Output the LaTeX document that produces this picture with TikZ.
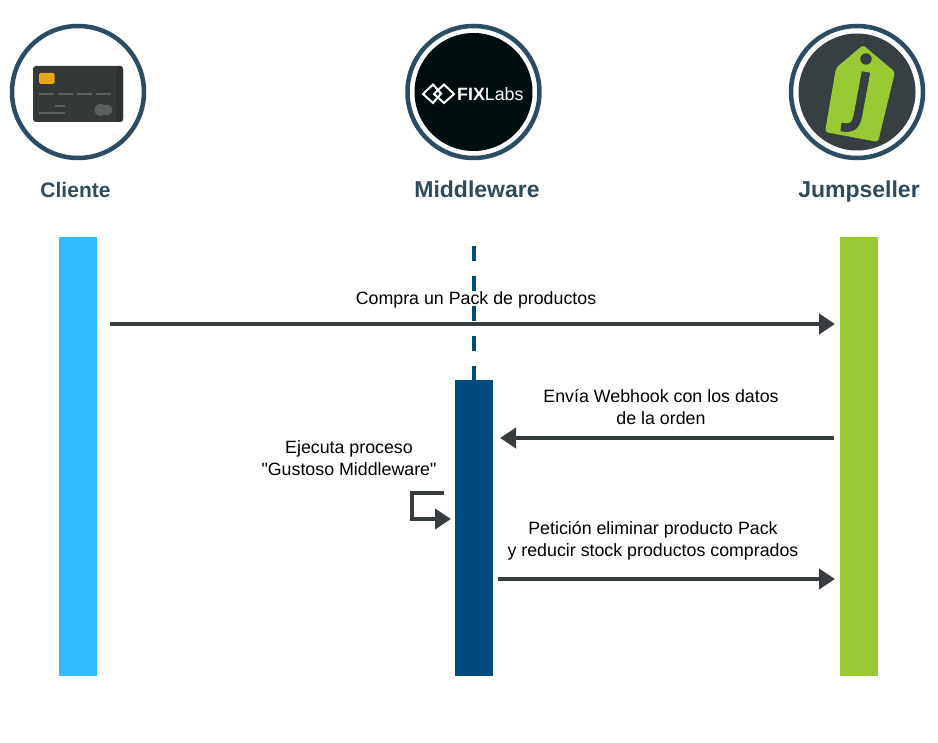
\documentclass[tikz,border=0pt]{standalone}
\usepackage{fontspec}
\setmainfont{Liberation Sans}
\newfontfamily\plainf{Liberation Sans}
\usetikzlibrary{arrows.meta}
\definecolor{ring}{HTML}{2B4C63}
\definecolor{lab}{HTML}{2F4A5E}
\definecolor{arr}{HTML}{373D3F}
\definecolor{mid}{HTML}{004A7C}
\definecolor{cli}{HTML}{33BBFF}
\definecolor{jmp}{HTML}{99C933}
\definecolor{jdark}{HTML}{373F43}
\definecolor{card}{HTML}{343937}
\definecolor{cardedge}{HTML}{2D3130}
\definecolor{chip}{HTML}{E9A80F}
\definecolor{cardline}{HTML}{5B605E}
\tikzset{
  x=1pt,y=-1pt,
  ringc/.style={circle,draw=ring,line width=4.5pt,fill=white,minimum size=132pt,inner sep=0},
  titlelab/.style={text=lab,anchor=base,inner sep=0},
  msg/.style={text=black,font=\plainf\fontsize{17.8}{22}\selectfont,align=center,inner sep=0},
  arrowline/.style={draw=arr,line width=4pt,-{Triangle[length=16pt,width=20pt]}},
  bar/.style={inner sep=0,minimum width=38pt,anchor=north west}
}
\begin{document}
\begin{tikzpicture}
\useasboundingbox (0,0) rectangle (938,743);
\fill[white] (0,0) rectangle (938,743);
% heads
\node[ringc] (c1) at (78,92) {};
\node[ringc] (c2) at (473.5,92) {};
\node[ringc] (c3) at (857,92) {};
% card
\fill[card,rounded corners=3pt] (33,66) rectangle (123,122);
\fill[cardedge,rounded corners=3pt] (116,66) rectangle (123,122);
\fill[chip,rounded corners=1.5pt] (39,73) rectangle (54.5,84);
\foreach \x in {39,58,77,96} \fill[cardline] (\x,93) rectangle (\x+15,95);
\fill[cardline] (55,105) rectangle (65,107);
\fill[cardline] (39,112) rectangle (65,114);
\fill[cardline] (100.5,110) circle (6);
\fill[cardline] (107,110) circle (5.5);
% fixlabs
\fill[black!90!teal] (473.5,92) circle (59);
\begin{scope}[white,line width=2pt,line join=miter]
\draw (433,84.5) -- (441,93.5) -- (433,103) -- (423,94) -- cycle;
\draw (444,84.5) -- (454,94) -- (444,103) -- (434,94) -- cycle;
\end{scope}
\node[text=white,anchor=west,inner sep=0,font=\fontsize{17.8}{20}\selectfont] (fx) at (457,94) {\textbf{FIX}Labs};
% jumpseller
\fill[jdark] (857,92) circle (58.5);
\fill[jmp,rounded corners=3pt] (863,45) -- (895,72) -- (878,142) -- (825,132) -- (836,68) -- cycle;
\fill[jdark] (866,59) circle (5.7);
\draw[jdark,line width=8.5pt] (866,72) -- (858,115) .. controls (856,126) and (852,129) .. (841,127);
% titles
\node[titlelab,font=\fontsize{21}{24}\selectfont\bfseries] (t1) at (75.5,198) {Cliente};
\node[titlelab,font=\fontsize{23}{26}\selectfont\bfseries] (t2) at (477,198) {Middleware};
\node[titlelab,font=\fontsize{23}{26}\selectfont\bfseries] (t3) at (859,198) {Jumpseller};
% lifelines
\node[bar,fill=cli,minimum height=439pt] (b1) at (59,237) {};
\node[bar,fill=mid,minimum height=296pt] (b2) at (455,380) {};
\node[bar,fill=jmp,minimum height=439pt] (b3) at (840,237) {};
\coordinate (top) at (474,246);
% messages
\node[msg] (m1) at (476,300) {Compra un Pack de productos};
\node[msg] (m2) at (661,407) {Envía Webhook con los datos\\de la orden};
\node[msg] (m3) at (653,541) {Petición eliminar producto Pack\\y reducir stock productos comprados};
\node[msg] (m4) at (349,458) {Ejecuta proceso\\"Gustoso Middleware"};
\draw[mid,line width=4pt,dash pattern=on 15pt off 15pt] (top) -- (b2.north -| top);
% arrows
\coordinate (a1s) at (110,324);
\coordinate (a1e) at (835,324);
\draw[arrowline] (a1s) -- (a1e);
\coordinate (a2s) at (834,438);
\coordinate (a2e) at (500,438);
\draw[arrowline] (a2s) -- (a2e);
\coordinate (a3s) at (498,579);
\coordinate (a3e) at (835,579);
\draw[arrowline] (a3s) -- (a3e);
\coordinate (s1) at (444,493);
\coordinate (s2) at (451,519);
\draw[arrowline] (s1) -- (412,493) -- (412,519) -- (s2);
\end{tikzpicture}
\end{document}
